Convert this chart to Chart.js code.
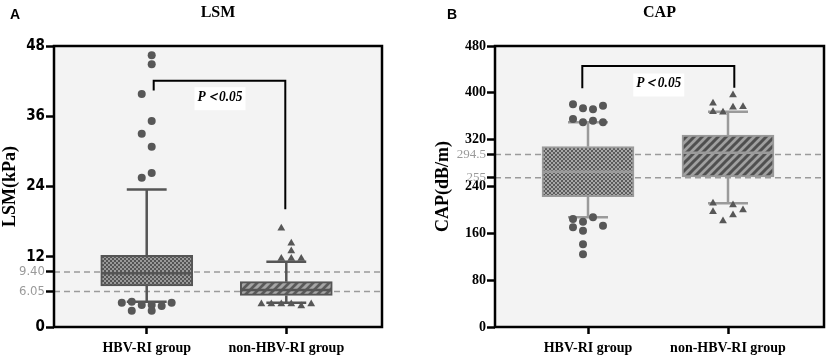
<!DOCTYPE html>
<html>
<head>
<meta charset="utf-8">
<script src="https://cdn.jsdelivr.net/npm/chart.js@4.4.0/dist/chart.umd.min.js"></script>
<style>
  body { margin: 0; background: #fff; }
  .panel { position: absolute; top: 0; width: 414px; height: 364px; }
  #left { left: 0; }
  #right { left: 415px; }
</style>
</head>
<body>
<div class="panel" id="left"><canvas id="lsmChart" width="414" height="364"></canvas></div>
<div class="panel" id="right"><canvas id="capChart" width="414" height="364"></canvas></div>
<script>
// section--1 data
const groups = ["HBV-RI group", "non-HBV-RI group"];

// LSM (kPa)
const lsmTicks = [0, 12, 24, 36, 48];
const lsmRefs = [6.05, 9.40];
const lsmRefLabels = ["6.05", "9.40"];
const lsmMin = [4.3, 4.15];
const lsmQ1 = [7.0, 5.4];
const lsmMedian = [9.2, 6.3];
const lsmQ3 = [12.25, 7.75];
const lsmMax = [23.5, 11.15];
const lsmHbvOut = [46.4, 44.9, 39.8, 35.2, 33.0, 30.8, 26.3, 25.5, 4.15, 4.3, 3.76, 3.76, 3.6, 4.15, 2.78, 2.78];
const lsmHbvSlot = [1, 1, -1, 1, -1, 1, 1, -1, -5, -3, -1, 1, 3, 5, -3, 1];
const lsmNonOut = [16.86, 14.3, 13.0, 11.7, 11.7, 11.7, 3.93, 3.93, 3.93, 3.93, 3.59, 3.93];
const lsmNonSlot = [-1, 1, 1, -1, 1, 3, -5, -3, -1, 1, 3, 5];
const lsmBracketTop = 42.07;
const lsmBracketEnds = [40.4, 20.1];

// CAP (dB/m)
const capTicks = [0, 80, 160, 240, 320, 400, 480];
const capRefs = [255, 294.5];
const capRefLabels = ["255", "294.5"];
const capMin = [187.4, 211.3];
const capQ1 = [222.6, 256.5];
const capMedian = [265.3, 297.7];
const capQ3 = [308, 328];
const capMax = [349.7, 367.8];
const capHbvOut = [380.4, 373.6, 371.9, 378, 355.3, 349.7, 352.4, 349.7, 184.5, 179.9, 187.4, 170.3, 164.5, 173, 141.3, 124.2];
const capHbvSlot = [-3, -1, 1, 3, -3, -1, 1, 3, -3, -1, 1, -3, -1, 3, -1, -1];
const capNonOut = [396.3, 382.1, 367.8, 366.8, 375.3, 376.3, 211.3, 208.4, 197, 191.3, 199.9, 181];
const capNonSlot = [1, -3, -3, -1, 1, 3, -3, 1, -3, 1, 3, -1];
const capBracketTop = 445.8;
const capBracketEnds = [407.8, 408.8];

// section--2 layout helpers (x axis runs in plot pixels)
const X_MAX = 329;
const CENTERS = [93, 233];
const SLOT = 5;
const BOX_HALF = 45;
const CAP_HALF = 20;

function checker(dark, light) {
  const c = document.createElement("canvas");
  c.width = 4;
  c.height = 4;
  const g = c.getContext("2d");
  g.fillStyle = dark;
  g.fillRect(0, 0, 4, 4);
  g.fillStyle = light;
  g.fillRect(0, 0, 2, 2);
  g.fillRect(2, 2, 2, 2);
  return g.createPattern(c, "repeat");
}

function hatch(base, stripe) {
  const c = document.createElement("canvas");
  c.width = 8;
  c.height = 8;
  const g = c.getContext("2d");
  g.fillStyle = base;
  g.fillRect(0, 0, 8, 8);
  g.strokeStyle = stripe;
  g.lineWidth = 3;
  g.beginPath();
  g.moveTo(-2, 10); g.lineTo(10, -2);
  g.moveTo(-2, 2); g.lineTo(2, -2);
  g.moveTo(6, 10); g.lineTo(10, 6);
  g.stroke();
  return g.createPattern(c, "repeat");
}

function points(center, values, slots) {
  return values.map((v, i) => ({ x: center + slots[i] * SLOT, y: v }));
}

// whiskers, caps and median as one broken line
function boxLines(q1, med, q3, lo, hi) {
  const pts = [];
  CENTERS.forEach((c, i) => {
    pts.push({ x: c, y: q3[i] }, { x: c, y: hi[i] }, { x: c, y: null });
    pts.push({ x: c - CAP_HALF, y: hi[i] }, { x: c + CAP_HALF, y: hi[i] }, { x: c, y: null });
    pts.push({ x: c, y: q1[i] }, { x: c, y: lo[i] }, { x: c, y: null });
    pts.push({ x: c - CAP_HALF, y: lo[i] }, { x: c + CAP_HALF, y: lo[i] }, { x: c, y: null });
    pts.push({ x: c - BOX_HALF, y: med[i] }, { x: c + BOX_HALF, y: med[i] }, { x: c, y: null });
  });
  return pts;
}

function refLines(refs) {
  const pts = [];
  refs.forEach((r) => {
    pts.push({ x: 0, y: r }, { x: X_MAX, y: r }, { x: 0, y: null });
  });
  return pts;
}

const panelPlugin = {
  id: "panel",
  beforeDraw(chart) {
    const { ctx, chartArea: a } = chart;
    ctx.save();
    ctx.fillStyle = "#f3f3f3";
    ctx.fillRect(a.left, a.top, a.right - a.left, a.bottom - a.top);
    ctx.restore();
  },
  afterDraw(chart, args, opts) {
    const { ctx, chartArea: a } = chart;
    ctx.save();
    ctx.strokeStyle = "#000";
    ctx.lineWidth = 2.5;
    ctx.strokeRect(a.left, a.top, a.right - a.left, a.bottom - a.top);

    ctx.fillStyle = "#000";
    ctx.font = "bold 14px 'Liberation Sans', Arial, sans-serif";
    ctx.textAlign = "center";
    ctx.textBaseline = "middle";
    ctx.fillText(opts.letter, opts.letterX, 15);

    // P label box
    const px = chart.scales.x.getPixelForValue(opts.pX);
    const py = chart.scales.y.getPixelForValue(opts.pY);
    ctx.fillStyle = "#fff";
    ctx.fillRect(px - 25.5, py - 11.5, 51, 23);
    ctx.fillStyle = "#000";
    ctx.font = "italic bold 15px 'Liberation Serif', serif";
    const text = "P＜0.05";
    const w = ctx.measureText(text).width;
    ctx.translate(px, py - 2);
    ctx.scale(Math.min(1, 45 / w), 1);
    ctx.fillText(text, 0, 0);
    ctx.restore();
  },
};

function makeChart(id, cfg) {
  const isRef = (ctx) => !!ctx.tick && cfg.refs.includes(ctx.tick.value);
  return new Chart(document.getElementById(id), {
    type: "scatter",
    data: {
      datasets: [
        {
          type: "scatter",
          data: points(CENTERS[0], cfg.hbvOut, cfg.hbvSlot),
          pointStyle: "circle",
          pointRadius: 4,
          backgroundColor: "#575757",
          borderWidth: 0,
          order: 1,
        },
        {
          type: "scatter",
          data: points(CENTERS[1], cfg.nonOut, cfg.nonSlot),
          pointStyle: "triangle",
          pointRadius: 4.5,
          backgroundColor: "#575757",
          borderWidth: 0,
          order: 1,
        },
        {
          type: "line",
          data: [
            { x: cfg.bracketX[0], y: cfg.bracketEnds[0] },
            { x: cfg.bracketX[0], y: cfg.bracketTop },
            { x: cfg.bracketX[1], y: cfg.bracketTop },
            { x: cfg.bracketX[1], y: cfg.bracketEnds[1] },
          ],
          borderColor: "#000",
          borderWidth: 2,
          pointRadius: 0,
          fill: false,
          order: 1,
        },
        {
          type: "line",
          data: boxLines(cfg.q1, cfg.median, cfg.q3, cfg.min, cfg.max),
          borderColor: cfg.lineColor,
          borderWidth: 2.5,
          pointRadius: 0,
          spanGaps: false,
          fill: false,
          order: 2,
        },
        {
          type: "bar",
          data: CENTERS.map((c, i) => ({ x: c, y: [cfg.q1[i], cfg.q3[i]] })),
          barThickness: 92,
          backgroundColor: cfg.fills,
          borderColor: cfg.lineColor,
          borderWidth: 2,
          borderSkipped: false,
          order: 3,
        },
        {
          type: "line",
          data: refLines(cfg.refs),
          borderColor: "#9a9a9a",
          borderWidth: 1.5,
          borderDash: [6, 4],
          pointRadius: 0,
          spanGaps: false,
          fill: false,
          order: 4,
        },
      ],
    },
    options: {
      responsive: false,
      animation: false,
      events: [],
      layout: { padding: { top: 0, right: cfg.padRight, bottom: 0, left: 0 } },
      plugins: {
        legend: { display: false },
        tooltip: { enabled: false },
        title: {
          display: true,
          fullSize: false,
          text: cfg.title,
          color: "#000",
          font: { family: "'Liberation Serif', serif", size: 16, weight: "bold" },
          padding: { top: 3, bottom: 23.8 },
        },
        panel: { letter: cfg.letter, letterX: cfg.letterX, pX: cfg.pX, pY: cfg.pY },
      },
      scales: {
        x: {
          type: "linear",
          min: 0,
          max: X_MAX,
          offset: false,
          afterBuildTicks: (s) => {
            s.ticks = CENTERS.map((v) => ({ value: v }));
          },
          afterFit: (s) => {
            s.height = 37;
          },
          ticks: {
            autoSkip: false,
            maxRotation: 0,
            padding: 6,
            color: "#000",
            font: { family: "'Liberation Serif', serif", size: 14, weight: "bold" },
            callback: (v, i) => groups[i],
          },
          grid: { offset: false, drawOnChartArea: false, tickLength: 7, tickWidth: 2.5, tickColor: "#000" },
          border: { display: false },
        },
        y: {
          type: "linear",
          min: cfg.ticks[0],
          max: cfg.ticks[cfg.ticks.length - 1],
          afterBuildTicks: (s) => {
            s.ticks = cfg.ticks.concat(cfg.refs).sort((a, b) => a - b).map((v) => ({ value: v }));
          },
          afterFit: (s) => {
            s.width = cfg.axisWidth;
          },
          ticks: {
            autoSkip: false,
            padding: 1,
            callback: (v) => {
              const i = cfg.refs.indexOf(v);
              return i >= 0 ? cfg.refLabels[i] : String(v);
            },
            color: (ctx) => (isRef(ctx) ? "#9a9a9a" : "#000"),
            font: (ctx) =>
              isRef(ctx)
                ? { family: cfg.tickFamily, size: 13, weight: "normal" }
                : { family: cfg.tickFamily, size: cfg.tickSize, weight: "bold" },
          },
          grid: { drawOnChartArea: false, tickLength: 8, tickWidth: 2.5, tickColor: "#000" },
          border: { display: false },
          title: {
            display: true,
            text: cfg.yTitle,
            color: "#000",
            font: { family: "'Liberation Serif', serif", size: 18, weight: "bold" },
            padding: { top: cfg.titlePad, bottom: 0 },
          },
        },
      },
    },
    plugins: [panelPlugin],
  });
}

// section--3 charts
const lsmChart = makeChart("lsmChart", {
  title: "LSM",
  letter: "A",
  letterX: 15,
  yTitle: "LSM(kPa)",
  ticks: lsmTicks,
  refs: lsmRefs,
  refLabels: lsmRefLabels,
  min: lsmMin,
  q1: lsmQ1,
  median: lsmMedian,
  q3: lsmQ3,
  max: lsmMax,
  hbvOut: lsmHbvOut,
  hbvSlot: lsmHbvSlot,
  nonOut: lsmNonOut,
  nonSlot: lsmNonSlot,
  bracketX: [100, 232],
  bracketTop: lsmBracketTop,
  bracketEnds: lsmBracketEnds,
  pX: 166.5,
  pY: 39.0,
  lineColor: "#555",
  fills: [checker("#555", "#9a9a9a"), hatch("#5a5a5a", "#a5a5a5")],
  axisWidth: 54,
  padRight: 32,
  titlePad: 0,
  tickFamily: "'Liberation Sans Narrow', 'DejaVu Sans Condensed', sans-serif",
  tickSize: 15,
});

const capChart = makeChart("capChart", {
  title: "CAP",
  letter: "B",
  letterX: 37,
  yTitle: "CAP(dB/m)",
  ticks: capTicks,
  refs: capRefs,
  refLabels: capRefLabels,
  min: capMin,
  q1: capQ1,
  median: capMedian,
  q3: capQ3,
  max: capMax,
  hbvOut: capHbvOut,
  hbvSlot: capHbvSlot,
  nonOut: capNonOut,
  nonSlot: capNonSlot,
  bracketX: [87.3, 239.3],
  bracketTop: capBracketTop,
  bracketEnds: capBracketEnds,
  pX: 163.8,
  pY: 413.4,
  lineColor: "#9a9a9a",
  fills: [checker("#5c5c5c", "#a8a8a8"), hatch("#a0a0a0", "#505050")],
  axisWidth: 80,
  padRight: 5,
  titlePad: 18,
  tickFamily: "'Liberation Serif', serif",
  tickSize: 14,
});
</script>
</body>
</html>
